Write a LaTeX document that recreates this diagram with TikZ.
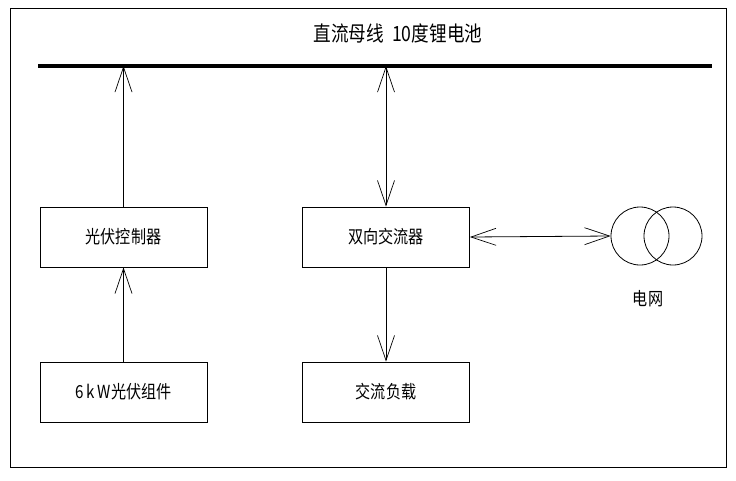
\documentclass[tikz,border=0pt]{standalone}
\usepackage{fontspec}
\newfontfamily\cjk{Noto Sans CJK SC}[FakeStretch=0.84]
\usetikzlibrary{arrows.meta}
\begin{document}
\begin{tikzpicture}[x=1pt,y=-1pt,
  box/.style={draw,line width=0.9pt,minimum width=167pt,minimum height=60pt,inner sep=0pt,font=\cjk\fontsize{18}{18}\selectfont},
  lbl/.style={inner sep=0pt,font=\cjk\fontsize{18}{18}\selectfont},
  barb/.tip={Straight Barb[length=25pt,width=17pt,line width=0.7pt]},
  tip/.style={-barb,line width=0.8pt},
  dtip/.style={barb-barb,line width=0.8pt},
  ring/.style={draw,circle,line width=0.8pt,minimum size=58pt,inner sep=0pt}]
\useasboundingbox (0,0) rectangle (736,480);
\fill[white] (0,0) rectangle (736,480);
\draw[line width=1pt] (10,8) rectangle (726,467);
\node[lbl,font=\cjk\fontsize{21}{21}\selectfont] (title) at (398,33) {直流母线\ \ 10度锂电池};
\coordinate (busL) at (38,66);
\coordinate (busR) at (712,66);
\draw[line width=4.5pt] (busL) -- (busR);
\node[box] (pvc) at (123.5,237) {光伏控制器};
\node[box] (pvm) at (123.5,392) {6\,k\,W光伏组件};
\node[box] (dac) at (386,237) {双向交流器};
\node[box] (load) at (386,392) {交流负载};
\node[ring] (g1) at (640,236) {};
\node[ring] (g2) at (673,236) {};
\node[lbl] (gl) at (648,299) {电网};
\draw[tip] (pvc.north) -- (pvc.north |- busL);
\draw[tip] (pvm.north) -- (pvc.south);
\draw[dtip] (dac.north |- busL) -- (dac.north);
\draw[tip] (dac.south) -- (load.north);
\draw[dtip] (dac.east) -- (g1.west);
\end{tikzpicture}
\end{document}
